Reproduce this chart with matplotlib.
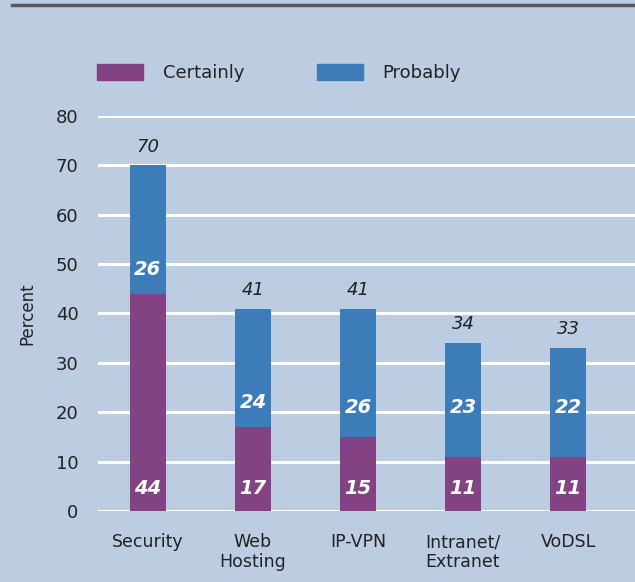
import matplotlib.pyplot as plt
from matplotlib.patches import Patch
from matplotlib.lines import Line2D

categories = ['Security', 'Web\nHosting', 'IP-VPN', 'Intranet/\nExtranet', 'VoDSL']
certainly = [44, 17, 15, 11, 11]
probably = [26, 24, 26, 23, 22]
totals = [70, 41, 41, 34, 33]

bg = '#bccde1'
purple = '#824283'
blue = '#3b7cb9'

plt.rcParams['font.family'] = ['DejaVu Sans']

fig = plt.figure(figsize=(6.35, 5.82), dpi=100, facecolor=bg)
ax = fig.add_axes([0.1543, 0.122, 0.8457, 0.6787], facecolor=bg)

x = list(range(len(categories)))
ax.bar(x, certainly, width=0.343, color=purple, zorder=3)
ax.bar(x, probably, width=0.343, bottom=certainly, color=blue, zorder=3)

for i in x:
    ax.text(i, 4.5, str(certainly[i]), ha='center', va='center', color='white',
            fontsize=14, fontweight='bold', style='italic', zorder=4)
    ax.text(i, max(certainly[i] + 5, 21), str(probably[i]), ha='center', va='center',
            color='white', fontsize=14, fontweight='bold', style='italic', zorder=4)
    ax.text(i, totals[i] + 3.8, str(totals[i]), ha='center', va='center',
            color='#222222', fontsize=13, style='italic', zorder=4)

ax.set_xlim(-0.476, 4.638)
ax.set_ylim(0, 80)
ax.set_yticks(range(0, 81, 10))
ax.set_xticks(x)
ax.set_xticklabels(categories, fontsize=12.5, color='#222222', linespacing=1.15)
ax.tick_params(axis='y', length=0, pad=14, labelsize=13, labelcolor='#222222')
ax.tick_params(axis='x', length=0, pad=16)
ax.grid(axis='y', color='white', linewidth=2.2, zorder=1)
for s in ax.spines.values():
    s.set_visible(False)
ax.set_ylabel('Percent', fontsize=12, color='#222222', labelpad=14)

handles = [Patch(color=purple, label='Certainly'), Patch(color=blue, label='Probably')]
fig.legend(handles=handles, loc='center left', bbox_to_anchor=(97 / 635, 1 - 73 / 582), ncol=2,
           frameon=False, fontsize=13, handlelength=2.55, handleheight=1.0, borderpad=0,
           borderaxespad=0, handletextpad=1.1, columnspacing=4.0, labelcolor='#222222')

fig.add_artist(Line2D([12 / 635, 1], [1 - 5 / 582, 1 - 5 / 582], color='#555a60', linewidth=2.5))

fig.savefig('out.png', dpi=100, facecolor=bg)
